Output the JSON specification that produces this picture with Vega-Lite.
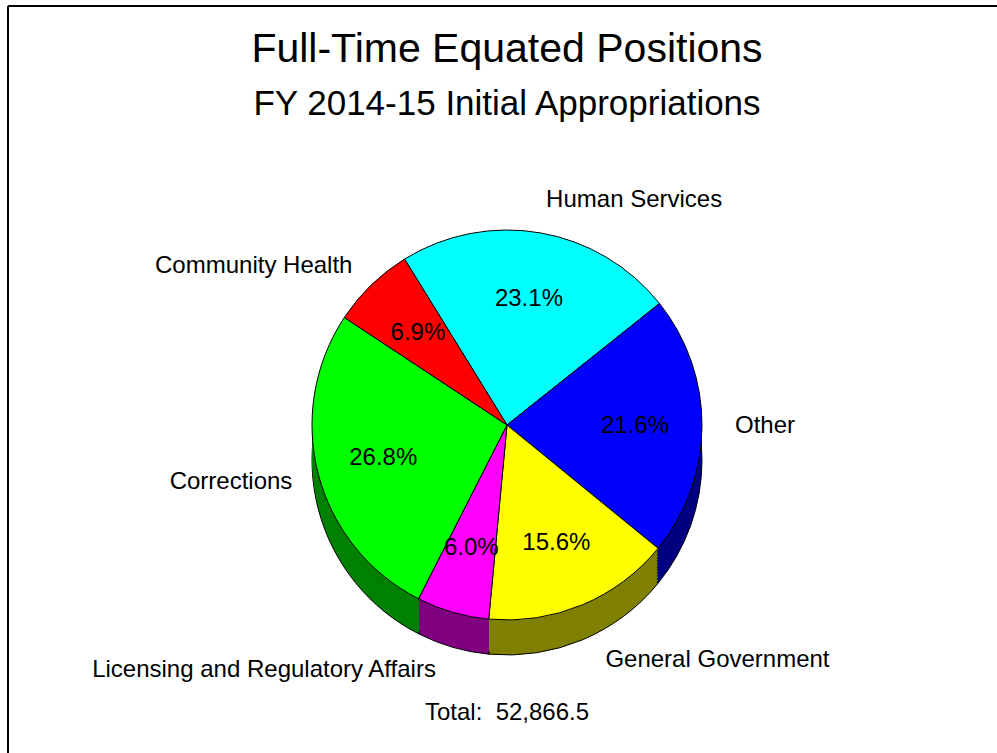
{
  "$schema": "https://vega.github.io/schema/vega-lite/v6.json",
  "autosize": "none",
  "padding": {"left": 8, "top": 6, "right": 0, "bottom": 0},
  "width": 998,
  "height": 838,
  "config": {"view": {"stroke": null}, "font": "Liberation Sans"},
  "title": {
    "text": "Full-Time Equated Positions",
    "subtitle": "FY 2014-15 Initial Appropriations",
    "font": "Liberation Sans",
    "subtitleFont": "Liberation Sans",
    "fontSize": 41,
    "subtitleFontSize": 35,
    "fontWeight": "normal",
    "color": "black",
    "subtitleColor": "black",
    "anchor": "middle",
    "offset": -118,
    "subtitlePadding": 16
  },
  "layer": [
    {
      "data": {"values": [{}]},
      "mark": {"type": "rule", "color": "black", "strokeWidth": 2},
      "encoding": {"x": {"value": 0}}
    },
    {
      "data": {"values": [{}]},
      "mark": {"type": "rule", "color": "black", "strokeWidth": 2},
      "encoding": {"y": {"value": 0}}
    },
    {
      "data": {"values": [
        {"category": "Human Services", "share": 0.231, "rank": 1},
        {"category": "Other", "share": 0.216, "rank": 2},
        {"category": "General Government", "share": 0.156, "rank": 3},
        {"category": "Licensing and Regulatory Affairs", "share": 0.060, "rank": 4},
        {"category": "Corrections", "share": 0.268, "rank": 5},
        {"category": "Community Health", "share": 0.069, "rank": 6}
      ]},
      "encoding": {
        "theta": {"field": "share", "type": "quantitative", "stack": true, "scale": {"range": [-0.5533, 5.7299]}},
        "order": {"field": "rank", "type": "quantitative"}
      },
      "layer": [
        {
          "encoding": {
            "fill": {"field": "category", "type": "nominal", "legend": null,
              "scale": {"domain": ["Human Services", "Other", "General Government", "Licensing and Regulatory Affairs", "Corrections", "Community Health"],
                        "range": ["#008080", "#000080", "#808000", "#800080", "#008000", "#800000"]}}
          },
          "layer": [
            {"mark": {"type": "arc", "outerRadius": 195, "yOffset": 35, "stroke": "black", "strokeWidth": 1}},
            {"mark": {"type": "arc", "outerRadius": 195, "yOffset": 32}},
            {"mark": {"type": "arc", "outerRadius": 195, "yOffset": 29}},
            {"mark": {"type": "arc", "outerRadius": 195, "yOffset": 26}},
            {"mark": {"type": "arc", "outerRadius": 195, "yOffset": 23}},
            {"mark": {"type": "arc", "outerRadius": 195, "yOffset": 20}},
            {"mark": {"type": "arc", "outerRadius": 195, "yOffset": 17}},
            {"mark": {"type": "arc", "outerRadius": 195, "yOffset": 14}},
            {"mark": {"type": "arc", "outerRadius": 195, "yOffset": 11}},
            {"mark": {"type": "arc", "outerRadius": 195, "yOffset": 8}},
            {"mark": {"type": "arc", "outerRadius": 195, "yOffset": 5}},
            {"mark": {"type": "arc", "outerRadius": 195, "yOffset": 2}}
          ]
        },
        {
          "mark": {"type": "arc", "outerRadius": 195, "stroke": "black", "strokeWidth": 1},
          "encoding": {"color": {"field": "category", "type": "nominal", "legend": null,
            "scale": {"domain": ["Human Services", "Other", "General Government", "Licensing and Regulatory Affairs", "Corrections", "Community Health"],
                      "range": ["#00FFFF", "#0000FF", "#FFFF00", "#FF00FF", "#00FF00", "#FF0000"]}}}
        },
        {
          "mark": {"type": "text", "radius": 128, "fontSize": 24, "font": "Liberation Sans", "baseline": "middle", "color": "black"},
          "encoding": {"text": {"field": "share", "type": "quantitative", "format": ".1%"}}
        },
        {
          "mark": {"type": "text", "radius": 228, "align": "left", "baseline": "middle", "fontSize": 24, "font": "Liberation Sans", "color": "black"},
          "encoding": {
            "text": {"field": "category", "type": "nominal"},
            "opacity": {"condition": {"test": "datum.category === 'Human Services' || datum.category === 'Other'", "value": 1}, "value": 0}
          }
        },
        {
          "mark": {"type": "text", "radius": 255, "align": "left", "baseline": "middle", "fontSize": 24, "font": "Liberation Sans", "color": "black"},
          "encoding": {
            "text": {"field": "category", "type": "nominal"},
            "opacity": {"condition": {"test": "datum.category === 'General Government'", "value": 1}, "value": 0}
          }
        },
        {
          "mark": {"type": "text", "radius": 222, "align": "right", "baseline": "middle", "fontSize": 24, "font": "Liberation Sans", "color": "black"},
          "encoding": {
            "text": {"field": "category", "type": "nominal"},
            "opacity": {"condition": {"test": "datum.category === 'Community Health' || datum.category === 'Corrections'", "value": 1}, "value": 0}
          }
        },
        {
          "mark": {"type": "text", "radius": 255, "align": "right", "baseline": "middle", "fontSize": 24, "font": "Liberation Sans", "color": "black"},
          "encoding": {
            "text": {"field": "category", "type": "nominal"},
            "opacity": {"condition": {"test": "datum.category === 'Licensing and Regulatory Affairs'", "value": 1}, "value": 0}
          }
        }
      ]
    },
    {
      "data": {"values": [{"label": "Total:\u00a0 52,866.5"}]},
      "mark": {"type": "text", "radius": 288, "fontSize": 24, "font": "Liberation Sans", "color": "black", "baseline": "middle"},
      "encoding": {
        "theta": {"value": 3.14159},
        "text": {"field": "label", "type": "nominal"}
      }
    }
  ]
}
